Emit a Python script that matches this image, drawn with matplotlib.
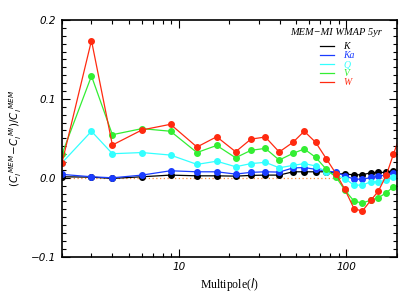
import matplotlib
matplotlib.use("Agg")
import matplotlib.pyplot as plt
from matplotlib.ticker import MultipleLocator, FixedLocator, NullFormatter, FixedFormatter
from matplotlib.lines import Line2D

# Multipole bin centres
ell = [2, 3, 4, 6, 8.9, 12.8, 16.8, 21.8, 26.9, 32.8, 39.7, 48, 56, 65.5,
       76, 87, 98, 111, 124.5, 140, 155, 173, 191, 212]

band_K = [0.0013, 0.0008, -0.0008, 0.0013, 0.0034, 0.0025, 0.0025, 0.0021,
          0.0030, 0.0034, 0.0034, 0.0076, 0.0076, 0.0076, 0.0076, 0.0055,
          0.0047, 0.0038, 0.0038, 0.0064, 0.0068, 0.0068, 0.0089, 0.0090]
band_Ka = [0.0043, 0.0013, 0.0000, 0.0034, 0.0089, 0.0076, 0.0076, 0.0047,
           0.0069, 0.0076, 0.0072, 0.0125, 0.0130, 0.0107, 0.0085, 0.0072,
           0.0022, -0.0015, -0.0020, 0.0004, 0.0022, 0.0034, 0.0064, 0.0080]
band_Q = [0.019, 0.059, 0.0305, 0.032, 0.0288, 0.017, 0.021, 0.014,
          0.018, 0.0196, 0.0127, 0.0157, 0.018, 0.015, 0.0076, 0.003,
          -0.001, -0.0093, -0.0093, -0.005, -0.005, -0.003, 0.0004, 0.002]
band_V = [0.030, 0.129, 0.0546, 0.0623, 0.059, 0.032, 0.041, 0.0254,
          0.0348, 0.0373, 0.0225, 0.031, 0.0365, 0.026, 0.0107, 0.0005,
          -0.0156, -0.0295, -0.032, -0.0283, -0.0254, -0.019, -0.0114, -0.007]
band_W = [0.019, 0.174, 0.0415, 0.0606, 0.0678, 0.039, 0.052, 0.033,
          0.049, 0.0517, 0.0327, 0.045, 0.059, 0.045, 0.024, 0.0047,
          -0.0147, -0.039, -0.0423, -0.0285, -0.0172, 0.003, 0.0297, 0.057]

labels = ["K", "Ka", "Q", "V", "W"]
series = [band_K, band_Ka, band_Q, band_V, band_W]
colors = ["#000000", "#1a3cff", "#33ffff", "#33ee33", "#ff2a10"]

fig = plt.figure(figsize=(4.15, 2.97), dpi=100)
ax = fig.add_axes([0.1494, 0.1357, 0.9560 - 0.1494, 0.9327 - 0.1357])

ax.axhline(0.0, color="#ff8a3a", lw=0.9, ls=(0, (1, 2)), zorder=1)

for lab, vals, c in zip(labels, series, colors):
    ax.plot(ell, vals, color=c, lw=0.9, marker="o", ms=4.0, mec=c, mfc=c,
            zorder=2, clip_on=True)

ax.set_xscale("log")
ax.set_xlim(2, 200)
ax.set_ylim(-0.1, 0.2)

ax.yaxis.set_major_locator(FixedLocator([-0.1, 0.0, 0.1, 0.2]))
ax.yaxis.set_major_formatter(FixedFormatter(["\u22120.1", "0.0", "0.1", "0.2"]))
ax.yaxis.set_minor_locator(MultipleLocator(0.01))
ax.xaxis.set_major_locator(FixedLocator([10, 100]))
ax.xaxis.set_major_formatter(FixedFormatter(["10", "100"]))
ax.xaxis.set_minor_locator(FixedLocator([2, 3, 4, 5, 6, 7, 8, 9, 20, 30, 40, 50, 60, 70, 80, 90, 200]))
ax.xaxis.set_minor_formatter(NullFormatter())
for t in ax.get_xticklabels() + ax.get_yticklabels():
    t.set_fontstyle("italic")
    t.set_fontsize(7.5)
ax.tick_params(which="both", direction="in", top=True, right=True, width=0.8)
ax.tick_params(which="major", length=6, pad=4)
ax.tick_params(which="minor", length=3)
for s in ax.spines.values():
    s.set_linewidth(1.2)

ax.set_xlabel(r"Multipole($l$)", family="Liberation Serif", fontsize=8.5, labelpad=3)
ax.set_ylabel(r"$(C_l^{\ MEM}\!-\!C_l^{\ MI})/C_l^{\ MEM}$", fontsize=7.5, labelpad=5)

ax.text(0.956, 0.966, "MEM\u2212MI WMAP 5yr", transform=ax.transAxes,
        ha="right", va="top", family="Liberation Serif", style="italic", fontsize=7.5)

handles = [Line2D([], [], color=c, lw=0.9) for c in colors]
leg = ax.legend(handles, labels, loc="upper left", bbox_to_anchor=(0.771, 0.905),
                frameon=False, handlelength=1.4, handletextpad=1.0,
                labelspacing=0.0, borderpad=0, borderaxespad=0,
                prop=dict(family="Liberation Serif", style="italic", size=7),
                labelcolor=colors)

fig.savefig("out.png", dpi=100)
